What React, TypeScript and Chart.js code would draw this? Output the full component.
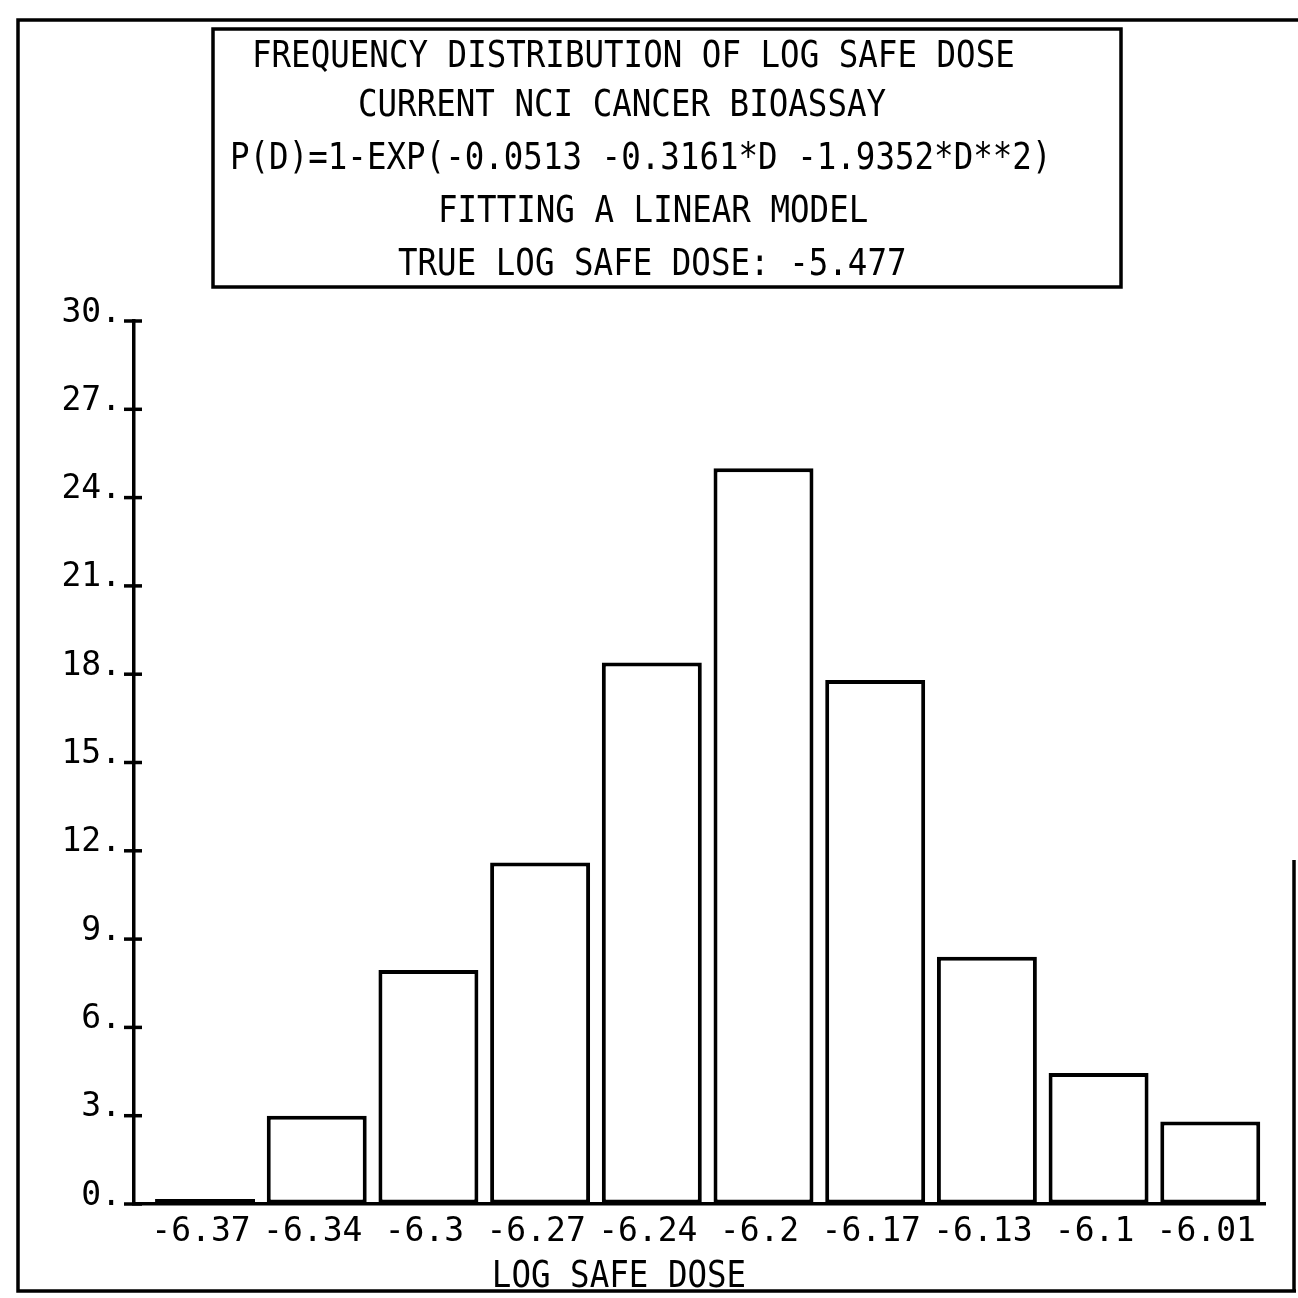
import React, { useEffect, useRef } from "react";
import { Chart, registerables } from "chart.js";

Chart.register(...registerables);

// ---- data ----
const categories = ["-6.37", "-6.34", "-6.3", "-6.27", "-6.24", "-6.2", "-6.17", "-6.13", "-6.1", "-6.01"];
const frequencies = [0.17, 3.0, 7.95, 11.6, 18.4, 25.0, 17.8, 8.4, 4.45, 2.8];
const yMin = 0;
const yMax = 30;
const yStep = 3;
const titleLines = [
  "FREQUENCY DISTRIBUTION OF LOG SAFE DOSE",
  "CURRENT NCI CANCER BIOASSAY",
  "P(D)=1-EXP(-0.0513 -0.3161*D -1.9352*D**2)",
  "FITTING A LINEAR MODEL",
  "TRUE LOG SAFE DOSE: -5.477",
];
const xAxisTitle = "LOG SAFE DOSE";

// ---- styling ----
const MONO = "'DejaVu Sans Mono', 'Liberation Mono', monospace";
const titleLeft = [252, 358, 230, 438, 398];
const titleY = [57, 106, 159, 212, 265];

function condensedText(ctx: CanvasRenderingContext2D, text: string, x: number, y: number, align: CanvasTextAlign) {
  ctx.save();
  ctx.font = `37px ${MONO}`;
  ctx.textAlign = align;
  ctx.textBaseline = "middle";
  ctx.translate(x, y);
  ctx.scale(0.878, 1);
  ctx.fillText(text, 0, 0);
  ctx.restore();
}

const decorPlugin = {
  id: "decor",
  beforeDraw(chart: any) {
    const ctx = chart.ctx as CanvasRenderingContext2D;
    ctx.save();
    ctx.fillStyle = "#ffffff";
    ctx.fillRect(0, 0, chart.width, chart.height);
    ctx.restore();
  },
  afterDraw(chart: any) {
    const ctx = chart.ctx as CanvasRenderingContext2D;
    const area = chart.chartArea;
    ctx.save();
    ctx.strokeStyle = "#000";
    ctx.fillStyle = "#000";
    ctx.lineWidth = 3.5;
    // outer frame
    ctx.beginPath();
    ctx.moveTo(1298, 20);
    ctx.lineTo(18, 20);
    ctx.lineTo(18, 1291);
    ctx.lineTo(1296, 1291);
    ctx.stroke();
    ctx.beginPath();
    ctx.moveTo(1294, 860);
    ctx.lineTo(1294, 1291);
    ctx.stroke();
    // title box
    ctx.strokeRect(213, 29, 908, 258);
    titleLines.forEach((t, i) => condensedText(ctx, t, titleLeft[i], titleY[i], "left"));
    // x-axis title
    condensedText(ctx, xAxisTitle, 619, 1277, "center");
    // y tick marks crossing the axis
    const ys = chart.scales.y;
    ctx.lineWidth = 3.5;
    ys.ticks.forEach((t: any) => {
      const py = ys.getPixelForValue(t.value);
      ctx.beginPath();
      ctx.moveTo(area.left - 10, py);
      ctx.lineTo(area.left + 8, py);
      ctx.stroke();
    });
    ctx.restore();
  },
};

export default function App() {
  const ref = useRef<HTMLCanvasElement | null>(null);

  useEffect(() => {
    if (!ref.current) return;
    const chart = new Chart(ref.current, {
      type: "bar",
      data: {
        datasets: [
          {
            label: "Frequency",
            data: frequencies.map((v, i) => ({ x: i, y: v })),
            backgroundColor: "#ffffff",
            borderColor: "#000000",
            borderWidth: 4,
            borderSkipped: false,
            barPercentage: 0.895,
            categoryPercentage: 1,
          },
        ],
      },
      options: {
        animation: false,
        responsive: true,
        maintainAspectRatio: false,
        layout: { padding: { left: 0, right: 33, top: 321, bottom: 0 } },
        plugins: {
          legend: { display: false },
          title: { display: false },
          tooltip: { enabled: false },
        },
        scales: {
          x: {
            type: "linear",
            offset: false,
            min: -0.636,
            max: 9.49,
            grid: { drawOnChartArea: false, drawTicks: false, offset: false },
            border: { display: true, color: "#000", width: 3.5 },
            afterBuildTicks: (scale: any) => {
              scale.ticks = categories.map((_, i) => ({ value: i }));
            },
            afterFit: (scale: any) => {
              scale.height = 94;
            },
            ticks: {
              autoSkip: false,
              maxRotation: 0,
              minRotation: 0,
              padding: 9,
              labelOffset: -4,
              color: "#000",
              font: { family: MONO, size: 33 },
              callback: (value: any) => categories[Math.round(Number(value))] ?? "",
            },
          },
          y: {
            min: yMin,
            max: yMax,
            grid: { drawOnChartArea: false, drawTicks: false },
            border: { display: true, color: "#000", width: 3.5 },
            afterFit: (scale: any) => {
              scale.width = 134;
            },
            ticks: {
              stepSize: yStep,
              padding: 13,
              labelOffset: -8,
              color: "#000",
              font: { family: MONO, size: 33 },
              callback: (value: any) => `${value}.`,
            },
          },
        },
      },
      plugins: [decorPlugin],
    });
    return () => chart.destroy();
  }, []);

  return (
    <div style={{ position: "absolute", left: 0, top: 0, width: 1298, height: 1298, background: "#fff" }}>
      <canvas ref={ref} style={{ display: "block" }} />
    </div>
  );
}
